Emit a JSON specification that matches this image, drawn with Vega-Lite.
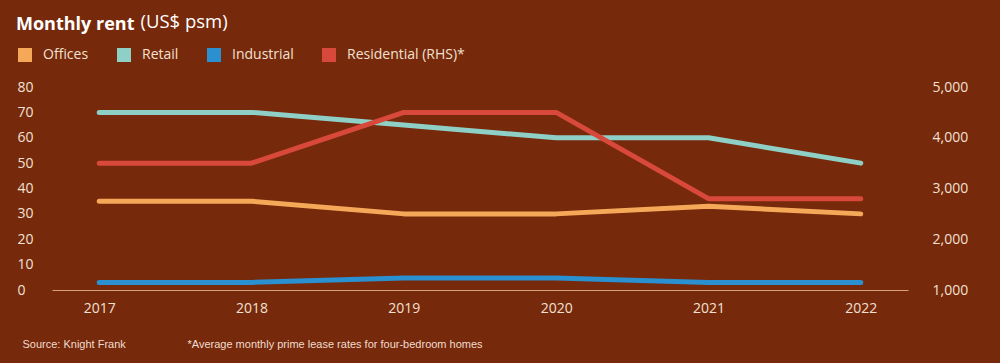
{
  "$schema": "https://vega.github.io/schema/vega-lite/v6.json",
  "width": 856,
  "height": 203,
  "autosize": {"type": "none"},
  "padding": {"left": 52, "top": 87, "right": 92, "bottom": 73},
  "background": "#76290b",
  "config": {
    "view": {"stroke": null},
    "font": "Open Sans",
    "axis": {"grid": false, "ticks": false, "labelColor": "#f3e0d2", "labelFont": "Open Sans", "labelFontSize": 14}
  },
  "title": {
    "text": "Monthly rent",
    "anchor": "start",
    "frame": "group",
    "fontSize": 18,
    "fontWeight": "bold",
    "font": "Open Sans",
    "color": "#ffffff",
    "dx": -36,
    "dy": 22,
    "offset": 0
  },
  "data": {
    "values": [
      {"year": "2017", "series": "Offices", "value": 35},
      {"year": "2018", "series": "Offices", "value": 35},
      {"year": "2019", "series": "Offices", "value": 30},
      {"year": "2020", "series": "Offices", "value": 30},
      {"year": "2021", "series": "Offices", "value": 33},
      {"year": "2022", "series": "Offices", "value": 30},
      {"year": "2017", "series": "Retail", "value": 70},
      {"year": "2018", "series": "Retail", "value": 70},
      {"year": "2019", "series": "Retail", "value": 65},
      {"year": "2020", "series": "Retail", "value": 60},
      {"year": "2021", "series": "Retail", "value": 60},
      {"year": "2022", "series": "Retail", "value": 50},
      {"year": "2017", "series": "Industrial", "value": 3},
      {"year": "2018", "series": "Industrial", "value": 3},
      {"year": "2019", "series": "Industrial", "value": 4.7},
      {"year": "2020", "series": "Industrial", "value": 4.7},
      {"year": "2021", "series": "Industrial", "value": 3},
      {"year": "2022", "series": "Industrial", "value": 3},
      {"year": "2017", "series": "Residential (RHS)*", "value": 3500},
      {"year": "2018", "series": "Residential (RHS)*", "value": 3500},
      {"year": "2019", "series": "Residential (RHS)*", "value": 4500},
      {"year": "2020", "series": "Residential (RHS)*", "value": 4500},
      {"year": "2021", "series": "Residential (RHS)*", "value": 2800},
      {"year": "2022", "series": "Residential (RHS)*", "value": 2800}
    ]
  },
  "encoding": {
    "x": {
      "field": "year",
      "type": "ordinal",
      "scale": {"type": "point", "padding": 0.31},
      "axis": {
        "labelAngle": 0,
        "labelPadding": 11,
        "domain": true,
        "domainColor": "#d9a17c",
        "domainWidth": 1,
        "title": "Source: Knight Frank",
        "titleFont": "Liberation Sans",
        "titleFontSize": 11,
        "titleFontWeight": "normal",
        "titleColor": "#f0dccf",
        "titleAngle": 0,
        "titleAlign": "left",
        "titleBaseline": "alphabetic",
        "titleX": -30,
        "titleY": 57
      }
    },
    "color": {
      "field": "series",
      "type": "nominal",
      "scale": {
        "domain": ["Offices", "Retail", "Industrial", "Residential (RHS)*"],
        "range": ["#f5a858", "#8fd0c6", "#2a90cf", "#d9493b"]
      },
      "legend": {
        "title": null,
        "orient": "none",
        "direction": "horizontal",
        "legendX": -34,
        "legendY": -39,
        "symbolType": "square",
        "symbolSize": 196,
        "symbolStrokeWidth": 0,
        "labelFont": "Open Sans",
        "labelFontSize": 14,
        "labelColor": "#f3e0d2",
        "labelOffset": 11,
        "columnPadding": 28,
        "labelLimit": 300,
        "encode": {
          "symbols": {"update": {"fill": {"scale": "color", "field": "value"}, "opacity": {"value": 1}}}
        }
      }
    }
  },
  "layer": [
    {
      "transform": [{"filter": "datum.series !== 'Residential (RHS)*'"}],
      "mark": {"type": "line", "strokeWidth": 5, "strokeCap": "round", "strokeJoin": "round"},
      "encoding": {
        "y": {
          "field": "value",
          "type": "quantitative",
          "scale": {"domain": [0, 80], "nice": false},
          "axis": {
            "orient": "left",
            "values": [0, 10, 20, 30, 40, 50, 60, 70, 80],
            "domain": false,
            "labelAlign": "left",
            "labelPadding": 35,
            "title": "(US$ psm)",
            "titleFont": "Open Sans",
            "titleFontSize": 18.5,
            "titleFontWeight": "normal",
            "titleColor": "#ffffff",
            "titleAngle": 0,
            "titleAlign": "left",
            "titleBaseline": "alphabetic",
            "titleX": 88,
            "titleY": -60
          }
        }
      }
    },
    {
      "transform": [{"filter": "datum.series === 'Residential (RHS)*'"}],
      "mark": {"type": "line", "strokeWidth": 5, "strokeCap": "round", "strokeJoin": "round"},
      "encoding": {
        "y": {
          "field": "value",
          "type": "quantitative",
          "scale": {"domain": [1000, 5000], "nice": false},
          "axis": {
            "orient": "right",
            "values": [1000, 2000, 3000, 4000, 5000],
            "format": ",.0f",
            "domain": false,
            "labelAlign": "left",
            "labelPadding": 24,
            "title": "*Average monthly prime lease rates for four-bedroom homes",
            "titleFont": "Liberation Sans",
            "titleFontSize": 11,
            "titleFontWeight": "normal",
            "titleColor": "#f0dccf",
            "titleAngle": 0,
            "titleAlign": "left",
            "titleBaseline": "alphabetic",
            "titleX": -721,
            "titleY": 260
          }
        }
      }
    }
  ],
  "resolve": {"scale": {"y": "independent"}}
}
